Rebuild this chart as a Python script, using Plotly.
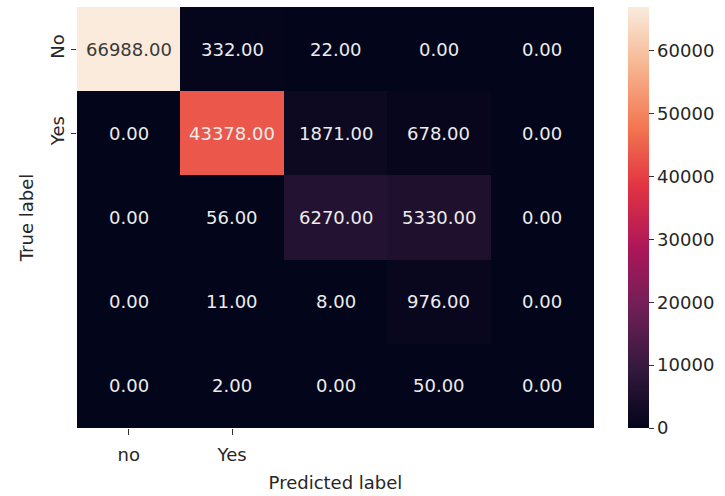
import plotly.graph_objects as go

# Confusion matrix counts (rows = true label, columns = predicted label)
row_no = [66988, 332, 22, 0, 0]
row_yes = [0, 43378, 1871, 678, 0]
row_c = [0, 56, 6270, 5330, 0]
row_d = [0, 11, 8, 976, 0]
row_e = [0, 2, 0, 50, 0]
matrix = [row_no, row_yes, row_c, row_d, row_e]

x_ticklabels = ["no", "Yes"]
y_ticklabels = ["No", "Yes"]
cbar_ticks = [0, 10000, 20000, 30000, 40000, 50000, 60000]

# seaborn "rocket" colour map
rocket = [
    [0.0, "#03051a"],
    [1 / 7, "#35193e"],
    [2 / 7, "#701f57"],
    [3 / 7, "#ad1759"],
    [4 / 7, "#e13342"],
    [5 / 7, "#f37651"],
    [6 / 7, "#f6b48f"],
    [1.0, "#faebdd"],
]

n_rows = len(matrix)
n_cols = len(matrix[0])
zmax = max(max(r) for r in matrix)
FONT = "DejaVu Sans"
FS = 18

fig = go.Figure(
    go.Heatmap(
        z=matrix,
        x=list(range(n_cols)),
        y=list(range(n_rows)),
        colorscale=rocket,
        zmin=0,
        zmax=zmax,
        xgap=0,
        ygap=0,
        hoverinfo="z",
        colorbar=dict(
            x=1.066,
            xanchor="left",
            xpad=0,
            y=0.5,
            yanchor="middle",
            len=1.0,
            lenmode="fraction",
            ypad=0,
            thickness=21,
            outlinewidth=0,
            tickvals=cbar_ticks,
            tickformat="d",
            ticks="outside",
            ticklen=5,
            tickwidth=1,
            tickcolor="#333333",
            tickfont=dict(family=FONT, size=FS, color="#262626"),
        ),
    )
)

# Cell annotations: dark text on light cells, light text on dark cells
annotations = []
for i, row in enumerate(matrix):
    for j, v in enumerate(row):
        colour = "#3a3a3a" if v / zmax > 0.8 else "#ececec"
        annotations.append(
            dict(
                x=j,
                y=i,
                xref="x",
                yref="y",
                text=f"{v:.2f}",
                showarrow=False,
                font=dict(family=FONT, size=FS, color=colour),
            )
        )

fig.update_layout(
    width=725,
    height=496,
    margin=dict(l=77, r=131, t=7, b=68),
    paper_bgcolor="white",
    plot_bgcolor="white",
    annotations=annotations,
    font=dict(family=FONT, size=FS, color="#262626"),
    xaxis=dict(
        range=[-0.5, n_cols - 0.5],
        tickvals=list(range(len(x_ticklabels))),
        ticktext=x_ticklabels,
        ticks="outside",
        ticklen=6,
        tickcolor="#333333",
        ticklabelstandoff=4,
        showgrid=False,
        zeroline=False,
        showline=False,
        title=dict(text="Predicted label", standoff=12,
                   font=dict(family=FONT, size=FS, color="#262626")),
        tickfont=dict(family=FONT, size=FS, color="#262626"),
    ),
    yaxis=dict(
        range=[n_rows - 0.5, -0.5],
        tickvals=list(range(len(y_ticklabels))),
        ticktext=y_ticklabels,
        tickangle=-90,
        ticks="outside",
        ticklen=5,
        tickcolor="#333333",
        showgrid=False,
        zeroline=False,
        showline=False,
        title=dict(text="True label", standoff=8,
                   font=dict(family=FONT, size=FS, color="#262626")),
        tickfont=dict(family=FONT, size=FS, color="#262626"),
    ),
)

fig.write_html("out.html")
